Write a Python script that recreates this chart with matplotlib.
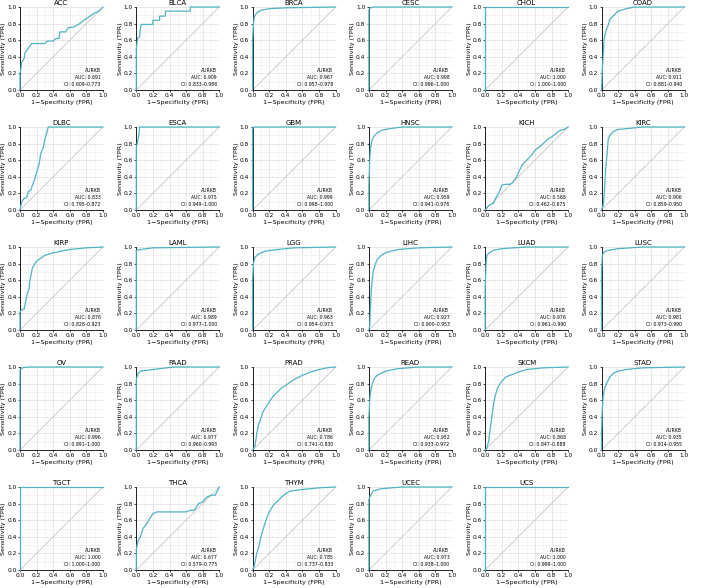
import matplotlib
matplotlib.use("Agg")
import matplotlib.pyplot as plt
import numpy as np

# ---------------- data ------------------------
cancers = ["ACC", "BLCA", "BRCA", "CESC", "CHOL", "COAD",
           "DLBC", "ESCA", "GBM", "HNSC", "KICH", "KIRC",
           "KIRP", "LAML", "LGG", "LIHC", "LUAD", "LUSC",
           "OV", "PAAD", "PRAD", "READ", "SKCM", "STAD",
           "TGCT", "THCA", "THYM", "UCEC", "UCS"]

auc = ["0.691", "0.909", "0.967", "0.998", "1.000", "0.911",
       "0.833", "0.975", "0.999", "0.959", "0.568", "0.906",
       "0.876", "0.989", "0.963", "0.927", "0.976", "0.981",
       "0.996", "0.977", "0.786", "0.952", "0.868", "0.935",
       "1.000", "0.677", "0.785", "0.973", "1.000"]

ci = ["0.609–0.773", "0.833–0.986", "0.957–0.978", "0.996–1.000", "1.000–1.000", "0.881–0.940",
      "0.795–0.872", "0.949–1.000", "0.998–1.000", "0.941–0.976", "0.462–0.675", "0.859–0.950",
      "0.828–0.923", "0.977–1.000", "0.954–0.973", "0.900–0.953", "0.961–0.990", "0.973–0.990",
      "0.991–1.000", "0.960–0.993", "0.741–0.830", "0.933–0.972", "0.847–0.888", "0.914–0.955",
      "1.000–1.000", "0.579–0.775", "0.737–0.833", "0.938–1.000", "0.999–1.000"]

fpr = {
    "ACC": [0, 0, 0.01, 0.02, 0.05, 0.06, 0.1, 0.14, 0.3, 0.33, 0.4, 0.43, 0.47, 0.48, 0.55, 0.58, 0.65, 0.72, 0.77, 0.8, 0.86, 0.9, 0.95, 1],
    "BLCA": [0, 0, 0.01, 0.02, 0.04, 0.05, 0.06, 0.2, 0.2, 0.28, 0.28, 0.35, 0.35, 0.65, 0.65, 1],
    "BRCA": [0, 0, 0.01, 0.02, 0.05, 0.1, 0.2, 0.4, 1],
    "CESC": [0, 0, 0.01, 0.02, 0.05, 1],
    "CHOL": [0, 0, 1],
    "COAD": [0, 0.01, 0.02, 0.03, 0.05, 0.08, 0.1, 0.15, 0.2, 0.3, 0.4, 1],
    "DLBC": [0, 0.02, 0.05, 0.08, 0.1, 0.13, 0.15, 0.17, 0.2, 0.23, 0.25, 0.28, 0.3, 0.32, 0.34, 1],
    "ESCA": [0, 0, 0.01, 0.02, 0.03, 0.04, 1],
    "GBM": [0, 0, 0.02, 1],
    "HNSC": [0, 0, 0.01, 0.02, 0.04, 0.07, 0.1, 0.15, 0.25, 0.4, 1],
    "KICH": [0, 0.03, 0.05, 0.1, 0.13, 0.17, 0.2, 0.25, 0.3, 0.33, 0.38, 0.4, 0.45, 0.5, 0.55, 0.6, 0.65, 0.7, 0.75, 0.8, 0.85, 0.9, 0.95, 1],
    "KIRC": [0, 0.02, 0.03, 0.04, 0.05, 0.07, 0.08, 0.1, 0.15, 0.2, 0.5, 1],
    "KIRP": [0, 0, 0.03, 0.05, 0.07, 0.09, 0.11, 0.12, 0.15, 0.2, 0.3, 0.4, 0.6, 0.8, 1],
    "LAML": [0, 0, 0.05, 0.2, 1],
    "LGG": [0, 0, 0.01, 0.03, 0.08, 0.15, 0.3, 0.5, 1],
    "LIHC": [0, 0.01, 0.02, 0.03, 0.04, 0.05, 0.08, 0.1, 0.15, 0.2, 0.35, 0.6, 1],
    "LUAD": [0, 0, 0.01, 0.02, 0.05, 0.1, 0.2, 0.5, 1],
    "LUSC": [0, 0, 0.01, 0.03, 0.08, 0.2, 0.5, 1],
    "OV": [0, 0, 0.03, 0.1, 1],
    "PAAD": [0, 0, 0.02, 0.05, 0.2, 0.45, 1],
    "PRAD": [0, 0.03, 0.05, 0.07, 0.1, 0.12, 0.15, 0.2, 0.25, 0.3, 0.35, 0.4, 0.5, 0.6, 0.7, 0.8, 0.9, 1],
    "READ": [0, 0, 0.01, 0.02, 0.04, 0.07, 0.1, 0.2, 0.35, 0.6, 1],
    "SKCM": [0, 0.02, 0.04, 0.06, 0.08, 0.1, 0.12, 0.15, 0.2, 0.25, 0.3, 0.4, 0.5, 0.7, 1],
    "STAD": [0, 0, 0.01, 0.02, 0.04, 0.07, 0.1, 0.15, 0.2, 0.3, 0.5, 1],
    "TGCT": [0, 0, 1],
    "THCA": [0, 0, 0.02, 0.05, 0.08, 0.12, 0.15, 0.2, 0.25, 0.6, 0.65, 0.7, 0.75, 0.8, 0.85, 0.9, 0.95, 1],
    "THYM": [0, 0.02, 0.05, 0.08, 0.1, 0.13, 0.16, 0.2, 0.25, 0.3, 0.35, 0.4, 0.45, 0.6, 0.8, 1],
    "UCEC": [0, 0, 0.02, 0.05, 0.15, 0.4, 1],
    "UCS": [0, 0, 1],
}

tpr = {
    "ACC": [0, 0.2, 0.25, 0.33, 0.38, 0.45, 0.5, 0.56, 0.56, 0.59, 0.59, 0.62, 0.62, 0.7, 0.7, 0.75, 0.76, 0.8, 0.84, 0.86, 0.9, 0.93, 0.95, 1],
    "BLCA": [0, 0.5, 0.58, 0.63, 0.64, 0.75, 0.79, 0.79, 0.84, 0.84, 0.89, 0.89, 0.95, 0.95, 1, 1],
    "BRCA": [0, 0.6, 0.8, 0.88, 0.93, 0.96, 0.98, 0.99, 1],
    "CESC": [0, 0.97, 0.98, 0.99, 1, 1],
    "CHOL": [0, 1, 1],
    "COAD": [0, 0.25, 0.4, 0.6, 0.7, 0.78, 0.85, 0.9, 0.95, 0.98, 1, 1],
    "DLBC": [0, 0.1, 0.14, 0.15, 0.22, 0.24, 0.3, 0.35, 0.45, 0.55, 0.68, 0.75, 0.85, 0.92, 1, 1],
    "ESCA": [0, 0.75, 0.8, 0.85, 0.9, 1, 1],
    "GBM": [0, 0.98, 1, 1],
    "HNSC": [0, 0.3, 0.6, 0.75, 0.85, 0.9, 0.93, 0.96, 0.98, 1, 1],
    "KICH": [0, 0.04, 0.06, 0.08, 0.15, 0.22, 0.3, 0.31, 0.31, 0.33, 0.4, 0.45, 0.55, 0.6, 0.65, 0.72, 0.76, 0.8, 0.85, 0.88, 0.92, 0.96, 0.97, 1],
    "KIRC": [0, 0.05, 0.15, 0.3, 0.5, 0.7, 0.85, 0.9, 0.95, 0.97, 1, 1],
    "KIRP": [0, 0.22, 0.25, 0.25, 0.35, 0.45, 0.5, 0.6, 0.75, 0.83, 0.9, 0.93, 0.97, 0.99, 1],
    "LAML": [0, 0.96, 0.97, 0.99, 1],
    "LGG": [0, 0.6, 0.8, 0.88, 0.92, 0.95, 0.97, 0.99, 1],
    "LIHC": [0, 0.05, 0.3, 0.5, 0.6, 0.7, 0.8, 0.85, 0.9, 0.93, 0.97, 0.99, 1],
    "LUAD": [0, 0.5, 0.8, 0.9, 0.93, 0.96, 0.98, 1, 1],
    "LUSC": [0, 0.7, 0.9, 0.94, 0.96, 0.98, 1, 1],
    "OV": [0, 0.97, 0.99, 1, 1],
    "PAAD": [0, 0.85, 0.92, 0.95, 0.97, 1, 1],
    "PRAD": [0, 0.05, 0.2, 0.3, 0.38, 0.45, 0.5, 0.58, 0.65, 0.7, 0.75, 0.78, 0.85, 0.9, 0.94, 0.97, 0.99, 1],
    "READ": [0, 0.4, 0.6, 0.7, 0.8, 0.87, 0.9, 0.95, 0.98, 1, 1],
    "SKCM": [0, 0.02, 0.1, 0.25, 0.4, 0.55, 0.65, 0.75, 0.83, 0.88, 0.9, 0.94, 0.97, 0.99, 1],
    "STAD": [0, 0.2, 0.5, 0.65, 0.75, 0.82, 0.88, 0.93, 0.95, 0.97, 0.99, 1],
    "TGCT": [0, 1, 1],
    "THCA": [0, 0.25, 0.35, 0.4, 0.5, 0.55, 0.6, 0.68, 0.7, 0.7, 0.72, 0.72, 0.8, 0.82, 0.88, 0.9, 0.9, 1],
    "THYM": [0, 0.05, 0.2, 0.3, 0.4, 0.5, 0.6, 0.7, 0.78, 0.83, 0.88, 0.92, 0.95, 0.97, 0.99, 1],
    "UCEC": [0, 0.85, 0.9, 0.95, 0.98, 1, 1],
    "UCS": [0, 1, 1],
}

gene = "AURKB"
line_col = "#4FB3C6"

# ---------------- layout (pixels) ------------------------
W, H = 709, 588
fig = plt.figure(figsize=(W / 100, H / 100), dpi=100)
ax_w, ax_h = 83, 83
x_left0, x_pitch = 20, 116.3
y_bot0, y_pitch = 90, 120

for i, name in enumerate(cancers):
    r, c = divmod(i, 6)
    left = x_left0 + c * x_pitch
    bottom = y_bot0 + r * y_pitch
    ax = fig.add_axes([left / W, 1 - bottom / H, ax_w / W, ax_h / H])

    ax.set_xlim(0, 1)
    ax.set_ylim(0, 1)
    ax.set_xticks(np.arange(0, 1.01, 0.2))
    ax.set_yticks(np.arange(0, 1.01, 0.2))
    ax.set_xticks(np.arange(0.1, 1.0, 0.2), minor=True)
    ax.set_yticks(np.arange(0.1, 1.0, 0.2), minor=True)
    ax.grid(True, which="major", color="#dedede", lw=0.5)
    ax.grid(True, which="minor", color="#ececec", lw=0.4)
    ax.set_axisbelow(True)
    ax.tick_params(which="minor", length=0)
    ax.tick_params(which="major", labelsize=4.2, length=1.5, width=0.5, pad=1.0)
    for s in ["top", "right"]:
        ax.spines[s].set_visible(False)
    for s in ["left", "bottom"]:
        ax.spines[s].set_linewidth(0.6)

    ax.plot([0, 1], [0, 1], color="#bdbdbd", lw=0.5)
    ax.plot(fpr[name], tpr[name], color=line_col, lw=0.9, clip_on=False, zorder=3)

    ax.set_title(name, fontsize=5, pad=1.5)
    ax.set_xlabel("1−Specificity (FPR)", fontsize=4.6, labelpad=1)
    ax.set_ylabel("Sensitivity (TPR)", fontsize=4.6, labelpad=0.5)

    ax.text(0.97, 0.20, gene, fontsize=3.3, ha="right", va="bottom", transform=ax.transAxes)
    ax.text(0.97, 0.12, f"AUC: {auc[i]}", fontsize=3.3, ha="right", va="bottom", transform=ax.transAxes)
    ax.text(0.97, 0.04, f"CI: {ci[i]}", fontsize=3.3, ha="right", va="bottom", transform=ax.transAxes)

fig.savefig("out.png", dpi=100, facecolor="white")
